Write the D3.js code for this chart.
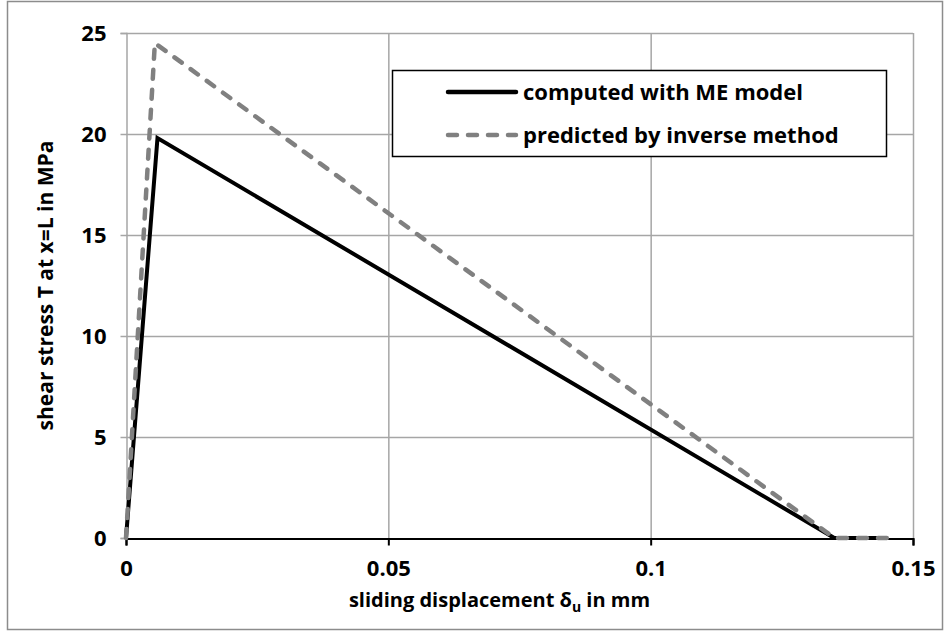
<!DOCTYPE html>
<html lang="en">
<head>
<meta charset="UTF-8">
<title>Shear stress vs sliding displacement</title>
<script src="https://d3js.org/d3.v7.min.js"></script>
<style>
  body { margin: 0; background: #fff; }
  text { font-family: "Open Sans", sans-serif; font-weight: bold; fill: #000; }
</style>
</head>
<body>
<svg width="944" height="632"></svg>
<script>
    // slip (mm) and shear stress (MPa)
    const slipME = [0, 0.006, 0.135, 0.145];
    const stressME = [0, 19.8, 0, 0];
    const slipInv = [0, 0.0055, 0.135, 0.145];
    const stressInv = [0, 24.5, 0, 0];

    const xTicks = [0, 0.05, 0.1, 0.15];
    const yTicks = [0, 5, 10, 15, 20, 25];
    const seriesNames = ["computed with ME model", "predicted by inverse method"];

    const svg = d3.select("svg");
    const plotLeft = 126, plotRight = 913, plotTop = 33, plotBottom = 538;

    const x = d3.scaleLinear().domain([0, 0.15]).range([plotLeft, plotRight]);
    const y = d3.scaleLinear().domain([0, 25]).range([plotBottom, plotTop]);

    // outer chart border
    svg.append("rect")
        .attr("x", 7.5).attr("y", 1.5)
        .attr("width", 935).attr("height", 628)
        .attr("fill", "none").attr("stroke", "#8c8c8c").attr("stroke-width", 1.5);

    // gridlines
    svg.append("g").selectAll("line")
        .data(yTicks.slice(1))
        .enter().append("line")
        .attr("x1", plotLeft).attr("x2", plotRight)
        .attr("y1", d => y(d) + 0.5).attr("y2", d => y(d) + 0.5)
        .attr("stroke", "#a6a6a6").attr("stroke-width", 1.5);

    svg.append("g").selectAll("line")
        .data(xTicks.slice(1))
        .enter().append("line")
        .attr("x1", d => x(d) + 0.5).attr("x2", d => x(d) + 0.5)
        .attr("y1", plotTop).attr("y2", plotBottom)
        .attr("stroke", "#a6a6a6").attr("stroke-width", 1.5);

    // y axis
    const yAxis = svg.append("g")
        .attr("transform", `translate(${plotLeft + 0.5},0)`)
        .call(d3.axisLeft(y).tickValues(yTicks).tickSize(6).tickPadding(14).tickFormat(d3.format("d")));
    yAxis.select(".domain").attr("stroke", "#a6a6a6").attr("stroke-width", 1.5);
    yAxis.selectAll(".tick line").attr("stroke", "#a6a6a6").attr("stroke-width", 1.5);
    yAxis.selectAll("text").attr("font-size", 22).attr("font-family", null).attr("fill", "#000");

    // x axis
    const xAxis = svg.append("g")
        .attr("transform", `translate(0,${plotBottom + 0.5})`)
        .call(d3.axisBottom(x).tickValues(xTicks).tickSize(7).tickPadding(15).tickFormat(d => d === 0 ? "0" : String(d)));
    xAxis.select(".domain").attr("stroke", "#000").attr("stroke-width", 2);
    xAxis.selectAll(".tick line").attr("stroke", "#000").attr("stroke-width", 2);
    xAxis.selectAll("text").attr("font-size", 22).attr("font-family", null).attr("fill", "#000");

    // lines
    const line = d3.line().x(d => x(d[0])).y(d => y(d[1]));

    svg.append("path")
        .datum(d3.zip(slipME, stressME))
        .attr("d", line)
        .attr("fill", "none")
        .attr("stroke", "#000")
        .attr("stroke-width", 4);

    svg.append("path")
        .datum(d3.zip(slipInv, stressInv))
        .attr("d", line)
        .attr("fill", "none")
        .attr("stroke", "#808080")
        .attr("stroke-width", 4.5)
        .attr("stroke-linecap", "round")
        .attr("stroke-dasharray", "9,11");

    // legend
    const legend = svg.append("g");
    legend.append("rect")
        .attr("x", 392.5).attr("y", 70.5)
        .attr("width", 494).attr("height", 86)
        .attr("fill", "#fff").attr("stroke", "#000").attr("stroke-width", 1.5);

    const legendItems = [
        { name: seriesNames[0], color: "#000", dash: null, cy: 92 },
        { name: seriesNames[1], color: "#808080", dash: "9,11", cy: 135 }
    ];
    legendItems.forEach(it => {
        legend.append("line")
            .attr("x1", 448).attr("x2", 516)
            .attr("y1", it.cy).attr("y2", it.cy)
            .attr("stroke", it.color).attr("stroke-width", 4.5)
            .attr("stroke-linecap", "round")
            .attr("stroke-dasharray", it.dash);
        legend.append("text")
            .attr("x", 523).attr("y", it.cy)
            .attr("dy", "0.35em")
            .attr("font-size", 22)
            .text(it.name);
    });

    // axis titles
    const xt = svg.append("text")
        .attr("x", (plotLeft + plotRight) / 2 - 20).attr("y", 607)
        .attr("text-anchor", "middle")
        .attr("font-size", 20);
    xt.append("tspan").text("sliding displacement ");
    xt.append("tspan").text("δ");
    xt.append("tspan").attr("font-size", 14).attr("dy", 5).text("u");
    xt.append("tspan").attr("dy", -5).text(" in mm");

    svg.append("text")
        .attr("transform", `translate(53,${(plotTop + plotBottom) / 2}) rotate(-90)`)
        .attr("text-anchor", "middle")
        .attr("font-size", 21)
        .text("shear stress T at x=L in MPa");
</script>
</body>
</html>
